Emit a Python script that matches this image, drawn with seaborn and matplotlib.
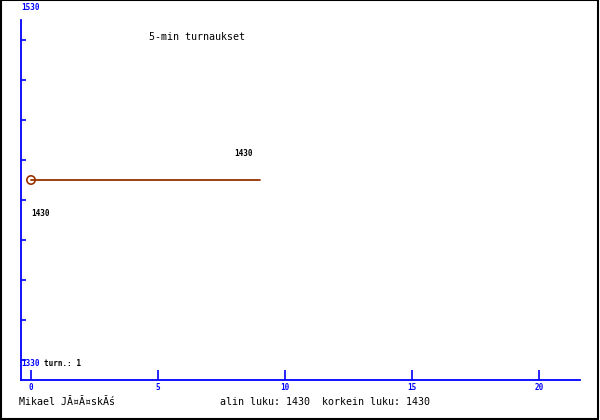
import matplotlib
matplotlib.use("Agg")
import matplotlib.pyplot as plt
import seaborn as sns
import pandas as pd
from matplotlib.patches import Rectangle

# data
minutes = [0, 9]
rates = [1430, 1430]
x_ticks = [0, 5, 10, 15, 20]
y_top_label = "1530"
y_bottom_label = "1330"
title = "5-min turnaukset"
author = "Mikael JĂ¤Ă¤skĂś"
low_value = 1430
high_value = 1430
n_turns = 1

BLUE = "#0000ff"
LINE = "#993300"

sns.set_style("white")
plt.rcParams['font.family'] = ['DejaVu Sans Mono', 'DejaVu Sans']
plt.rcParams['text.color'] = 'black'

df = pd.DataFrame({"min": minutes, "rate": rates})

fig = plt.figure(figsize=(6, 4.2), dpi=100)
ax = fig.add_axes([21 / 600, 40 / 420, 559 / 600, 360 / 420])

sns.lineplot(data=df, x="min", y="rate", ax=ax, color=LINE, lw=1.3)
sns.scatterplot(data=df.iloc[:1], x="min", y="rate", ax=ax, s=36,
                facecolor="none", edgecolor=LINE, linewidth=1.2, zorder=3)

# pixel scale: 25.4 px per minute, 1.8 px per rating point
ax.set_xlim(-10 / 25.4, 549 / 25.4)
ax.set_ylim(1430 - 200 / 1.8, 1430 + 160 / 1.8)

ax.set_xticks(x_ticks)
ax.set_xticklabels([str(t) for t in x_ticks], color=BLUE, fontsize=5.5,
                   fontweight="bold")
ax.tick_params(axis="x", bottom=True, direction="in", length=7.2, width=1.2,
               color=BLUE, pad=2)
yt = [1330 + k * 200 / 9 for k in range(9)]
ax.set_yticks(yt)
ax.set_yticklabels([])
ax.tick_params(axis="y", left=True, direction="in", length=3.6, width=1.2,
               color=BLUE)

for s in ["top", "right"]:
    ax.spines[s].set_visible(False)
for s in ["left", "bottom"]:
    ax.spines[s].set_color(BLUE)
    ax.spines[s].set_linewidth(1.3)
ax.set_xlabel("")
ax.set_ylabel("")

# value labels
ax.annotate(str(rates[-1]), (minutes[-1], rates[-1]), xytext=(-16, 26),
            textcoords="offset pixels", ha="center", va="center",
            fontsize=5.5, fontweight="bold", color="black")
ax.annotate(str(rates[0]), (minutes[0], rates[0]), xytext=(9, -33),
            textcoords="offset pixels", ha="center", va="center",
            fontsize=5.5, fontweight="bold", color="black")

# texts in figure pixels
def ftext(x, y, s, **kw):
    fig.text(x / 600, 1 - y / 420, s, **kw)

ftext(30, 8, y_top_label, color=BLUE, fontsize=5.5, fontweight="bold",
      ha="center", va="center")
ftext(30, 364, y_bottom_label, color=BLUE, fontsize=5.5, fontweight="bold",
      ha="center", va="center")
ftext(44, 364, f"turn.: {n_turns}", fontsize=5.5, fontweight="bold",
      ha="left", va="center")
ftext(197, 37, title, fontsize=7.2, ha="center", va="center")
ftext(19, 402, author, fontsize=7.2, ha="left", va="center")
ftext(220, 402, f"alin luku: {low_value}  korkein luku: {high_value}",
      fontsize=7.2, ha="left", va="center")

fig.patches.append(Rectangle((0.001, 0.003), 0.995, 0.996,
                             transform=fig.transFigure, fill=False,
                             edgecolor="black", linewidth=1.5))

fig.savefig("out.png", dpi=100)
